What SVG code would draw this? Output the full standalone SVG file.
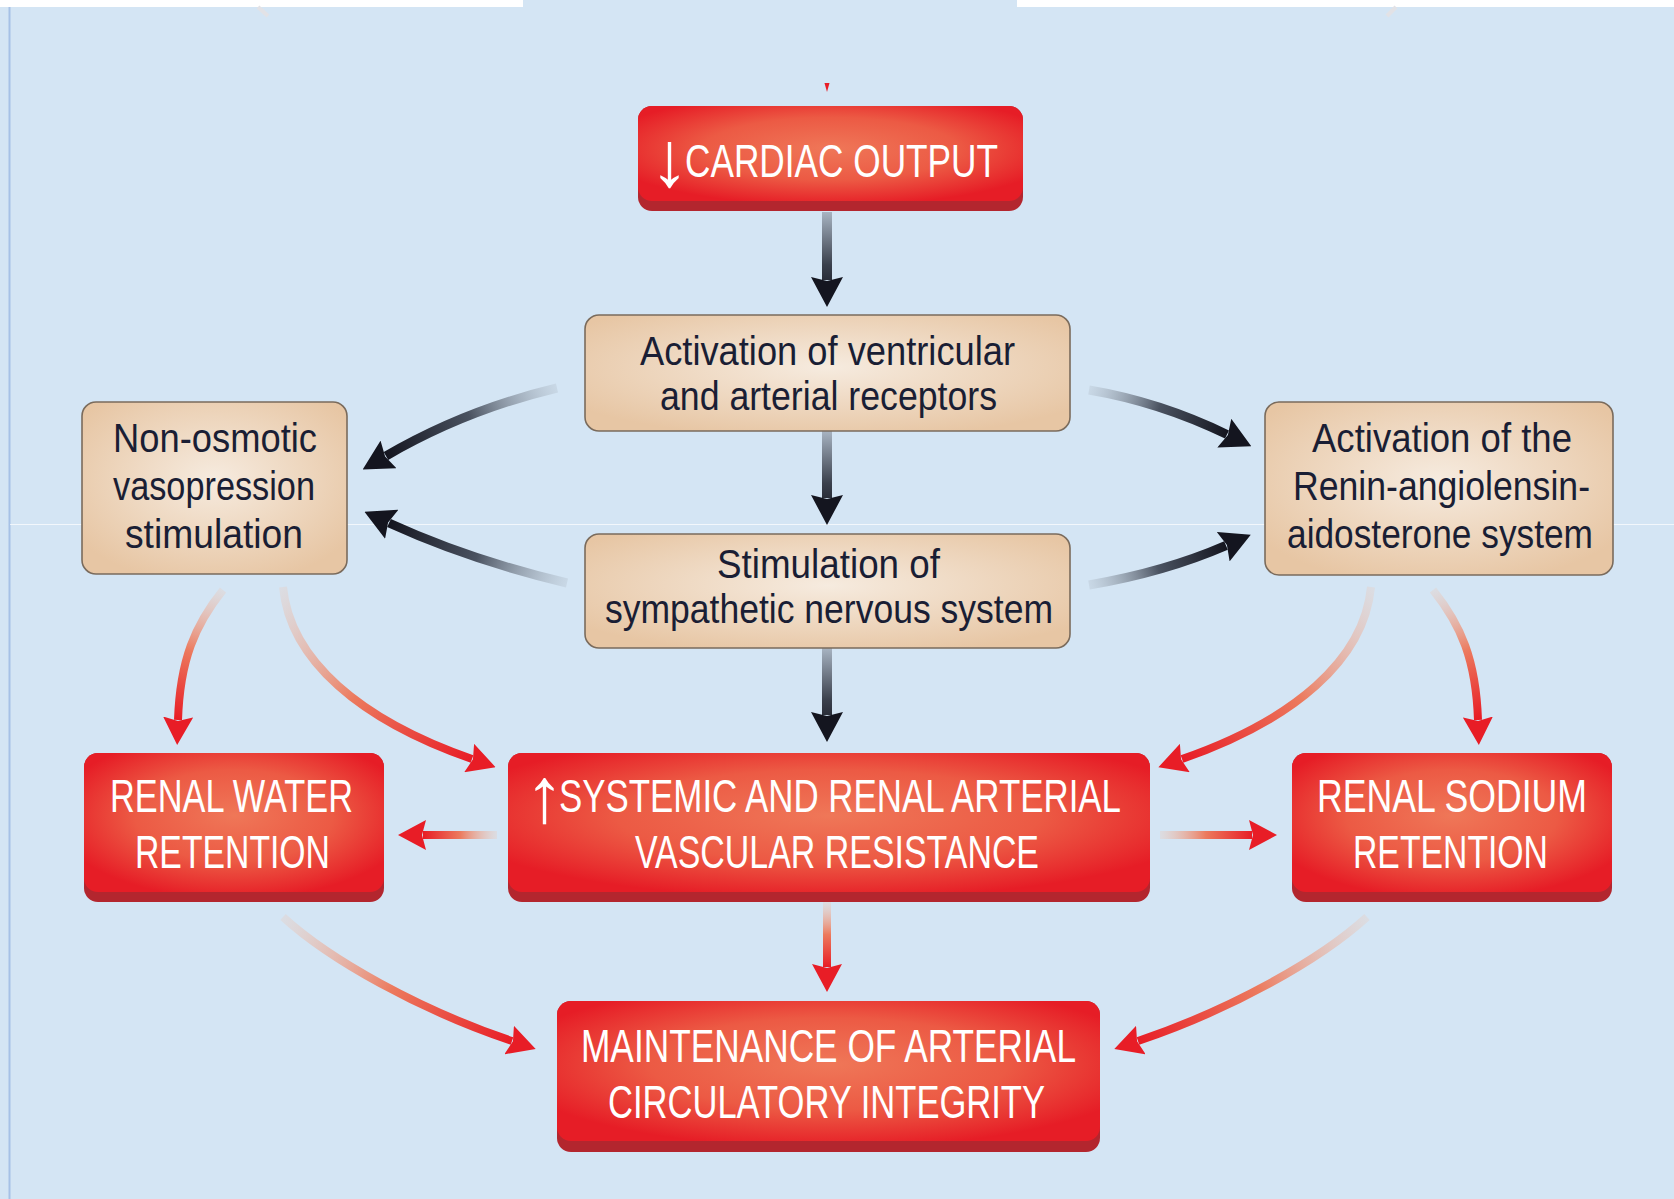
<svg xmlns="http://www.w3.org/2000/svg" width="1674" height="1199" viewBox="0 0 1674 1199">
<style>
.bg{fill:#d4e5f4}
.red .base{fill:#b3262e}
.red .face{fill:url(#redFill)}
.tan rect{fill:url(#tanFill);stroke:#7a6b5c;stroke-width:1.6}
.wt{font-family:"Liberation Sans",Arial,sans-serif;font-size:47px;fill:#ffffff}
.ar{font-size:78px}
.dt{font-family:"Liberation Sans",Arial,sans-serif;font-size:40px;fill:#1a1e34}
.dk{fill:none;stroke-width:9}
.rd{fill:none;stroke-width:8}
</style>
<defs>
<radialGradient id="redFill" cx="0.5" cy="0.45" r="0.6">
<stop offset="0" stop-color="#ef7758"/>
<stop offset="0.55" stop-color="#ec5a44"/>
<stop offset="1" stop-color="#e61d26"/>
</radialGradient>
<radialGradient id="tanFill" cx="0.5" cy="0.45" r="0.62">
<stop offset="0" stop-color="#f6ebdf"/>
<stop offset="1" stop-color="#e7c6a4"/>
</radialGradient>
<linearGradient id="dS">
<stop offset="0" stop-color="#b4c0cc" stop-opacity="0.35"/>
<stop offset="0.5" stop-color="#4a5260"/>
<stop offset="1" stop-color="#14151f"/>
</linearGradient>
<linearGradient id="dV">
<stop offset="0" stop-color="#a8b4c2"/>
<stop offset="0.6" stop-color="#3a404c"/>
<stop offset="1" stop-color="#14151f"/>
</linearGradient>
<linearGradient id="rS">
<stop offset="0" stop-color="#f0c4ae" stop-opacity="0.25"/>
<stop offset="0.5" stop-color="#ec7a5e"/>
<stop offset="1" stop-color="#e81d26"/>
</linearGradient>
<linearGradient id="ga" href="#dV" gradientUnits="userSpaceOnUse" x1="827" y1="212" x2="827" y2="300"/>
<linearGradient id="gb" href="#dV" gradientUnits="userSpaceOnUse" x1="827" y1="431" x2="827" y2="518"/>
<linearGradient id="gc" href="#dV" gradientUnits="userSpaceOnUse" x1="827" y1="648" x2="827" y2="735"/>
<linearGradient id="gd" href="#dS" gradientUnits="userSpaceOnUse" x1="557" y1="388" x2="386" y2="456"/>
<linearGradient id="ge" href="#dS" gradientUnits="userSpaceOnUse" x1="567" y1="583" x2="389" y2="523"/>
<linearGradient id="gf" href="#dS" gradientUnits="userSpaceOnUse" x1="1089" y1="390" x2="1227" y2="434"/>
<linearGradient id="gg" href="#dS" gradientUnits="userSpaceOnUse" x1="1089" y1="585" x2="1226" y2="545"/>
<linearGradient id="gh" href="#rS" gradientUnits="userSpaceOnUse" x1="223" y1="590" x2="178" y2="719"/>
<linearGradient id="gi" href="#rS" gradientUnits="userSpaceOnUse" x1="283" y1="587" x2="471" y2="759"/>
<linearGradient id="gj" href="#rS" gradientUnits="userSpaceOnUse" x1="1371" y1="587" x2="1183" y2="759"/>
<linearGradient id="gk" href="#rS" gradientUnits="userSpaceOnUse" x1="1433" y1="590" x2="1478" y2="719"/>
<linearGradient id="gl" href="#rS" gradientUnits="userSpaceOnUse" x1="497" y1="835" x2="423" y2="835"/>
<linearGradient id="gm" href="#rS" gradientUnits="userSpaceOnUse" x1="1160" y1="835" x2="1252" y2="835"/>
<linearGradient id="gn" href="#rS" gradientUnits="userSpaceOnUse" x1="827" y1="902" x2="827" y2="967"/>
<linearGradient id="go" href="#rS" gradientUnits="userSpaceOnUse" x1="283" y1="917" x2="512" y2="1041"/>
<linearGradient id="gp" href="#rS" gradientUnits="userSpaceOnUse" x1="1367" y1="917" x2="1138" y2="1041"/>
<marker id="hd" markerUnits="userSpaceOnUse" markerWidth="30" markerHeight="32" viewBox="0 0 30 32" refX="3" refY="16" orient="auto">
<path d="M0,0 L30,16 L0,32 L4,16 z" fill="#14151f"/>
</marker>
<marker id="hr" markerUnits="userSpaceOnUse" markerWidth="28" markerHeight="30" viewBox="0 0 28 30" refX="3" refY="15" orient="auto">
<path d="M0,0 L28,15 L0,30 L4,15 z" fill="#e81d26"/>
</marker>
</defs>

<g id="background">
<rect class="bg" x="0" y="0" width="1674" height="1199"/>
<rect x="0" y="0" width="523" height="7" fill="#ffffff"/>
<rect x="1017" y="0" width="657" height="7" fill="#ffffff"/>
<line x1="9.5" y1="7" x2="9.5" y2="1199" stroke="#a6c1e6" stroke-width="2"/>
<line x1="10" y1="524.5" x2="1674" y2="524.5" stroke="#ffffff" stroke-opacity="0.7" stroke-width="1"/>
<path d="M258,7 L268,16" stroke="#e2e2e6" stroke-width="4" fill="none"/>
<path d="M1396,7 L1387,16" stroke="#e2e2e6" stroke-width="4" fill="none"/>
<polygon points="824.5,83 829.5,83 827,92" fill="#e81d26"/>
</g>

<g id="connectors">
<path class="dk" stroke="url(#ga)" d="M827,212 L827,280" marker-end="url(#hd)" style="stroke-width:10"/>
<path class="dk" stroke="url(#gb)" d="M827,431 L827,498" marker-end="url(#hd)" style="stroke-width:10"/>
<path class="dk" stroke="url(#gc)" d="M827,648 L827,715" marker-end="url(#hd)" style="stroke-width:10"/>
<path class="dk" stroke="url(#gd)" d="M557,388 Q465,410 386,456" marker-end="url(#hd)"/>
<path class="dk" stroke="url(#ge)" d="M567,583 Q470,560 389,523" marker-end="url(#hd)"/>
<path class="dk" stroke="url(#gf)" d="M1089,390 Q1160,402 1227,434.5" marker-end="url(#hd)"/>
<path class="dk" stroke="url(#gg)" d="M1089,585 Q1165,572 1226,545.5" marker-end="url(#hd)"/>
<path class="rd" stroke="url(#gh)" d="M223,590 C195,625 180,660 178,720" marker-end="url(#hr)"/>
<path class="rd" stroke="url(#gi)" d="M283,587 C290,660 360,720 472,759" marker-end="url(#hr)"/>
<path class="rd" stroke="url(#gj)" d="M1371,587 C1364,660 1294,720 1182,759" marker-end="url(#hr)"/>
<path class="rd" stroke="url(#gk)" d="M1433,590 C1461,625 1476,660 1478,720" marker-end="url(#hr)"/>
<path class="rd" stroke="url(#gl)" d="M497,835 L423,835" marker-end="url(#hr)"/>
<path class="rd" stroke="url(#gm)" d="M1160,835 L1252,835" marker-end="url(#hr)"/>
<path class="rd" stroke="url(#gn)" d="M827,902 L827,967" marker-end="url(#hr)"/>
<path class="rd" stroke="url(#go)" d="M283,917 C330,960 420,1010 512,1041" marker-end="url(#hr)"/>
<path class="rd" stroke="url(#gp)" d="M1367,917 C1320,960 1230,1010 1138,1041" marker-end="url(#hr)"/>
</g>

<g id="cardiac-output" class="red">
<rect class="base" x="638" y="106" width="385" height="105" rx="14"/>
<rect class="face" x="638" y="106" width="385" height="95" rx="14"/>
<text class="wt" y="177"><tspan class="ar" x="650" y="186">↓</tspan><tspan x="685" y="177" textLength="313" lengthAdjust="spacingAndGlyphs">CARDIAC OUTPUT</tspan></text>
</g>

<g id="ventricular-receptors" class="tan">
<rect x="585" y="315" width="485" height="116" rx="14"/>
<text class="dt" x="640" y="365" textLength="375" lengthAdjust="spacingAndGlyphs">Activation of ventricular</text>
<text class="dt" x="660" y="410" textLength="337" lengthAdjust="spacingAndGlyphs">and arterial receptors</text>
</g>

<g id="sympathetic" class="tan">
<rect x="585" y="534" width="485" height="114" rx="14"/>
<text class="dt" x="717" y="578" textLength="223" lengthAdjust="spacingAndGlyphs">Stimulation of</text>
<text class="dt" x="605" y="623" textLength="448" lengthAdjust="spacingAndGlyphs">sympathetic nervous system</text>
</g>

<g id="vasopression" class="tan">
<rect x="82" y="402" width="265" height="172" rx="14"/>
<text class="dt" x="113" y="452" textLength="204" lengthAdjust="spacingAndGlyphs">Non-osmotic</text>
<text class="dt" x="113" y="500" textLength="202" lengthAdjust="spacingAndGlyphs">vasopression</text>
<text class="dt" x="125" y="548" textLength="178" lengthAdjust="spacingAndGlyphs">stimulation</text>
</g>

<g id="renin" class="tan">
<rect x="1265" y="402" width="348" height="173" rx="14"/>
<text class="dt" x="1312" y="452" textLength="260" lengthAdjust="spacingAndGlyphs">Activation of the</text>
<text class="dt" x="1293" y="500" textLength="297" lengthAdjust="spacingAndGlyphs">Renin-angiolensin-</text>
<text class="dt" x="1287" y="548" textLength="306" lengthAdjust="spacingAndGlyphs">aidosterone system</text>
</g>

<g id="renal-water" class="red">
<rect class="base" x="84" y="753" width="300" height="149" rx="14"/>
<rect class="face" x="84" y="753" width="300" height="139" rx="14"/>
<text class="wt" x="110" y="812" textLength="243" lengthAdjust="spacingAndGlyphs">RENAL WATER</text>
<text class="wt" x="135" y="868" textLength="195" lengthAdjust="spacingAndGlyphs">RETENTION</text>
</g>

<g id="resistance" class="red">
<rect class="base" x="508" y="753" width="642" height="149" rx="14"/>
<rect class="face" x="508" y="753" width="642" height="139" rx="14"/>
<text class="wt" y="812"><tspan class="ar" x="525" y="822">↑</tspan><tspan x="559" y="812" textLength="562" lengthAdjust="spacingAndGlyphs">SYSTEMIC AND RENAL ARTERIAL</tspan></text>
<text class="wt" x="635" y="868" textLength="404" lengthAdjust="spacingAndGlyphs">VASCULAR RESISTANCE</text>
</g>

<g id="renal-sodium" class="red">
<rect class="base" x="1292" y="753" width="320" height="149" rx="14"/>
<rect class="face" x="1292" y="753" width="320" height="139" rx="14"/>
<text class="wt" x="1317" y="812" textLength="270" lengthAdjust="spacingAndGlyphs">RENAL SODIUM</text>
<text class="wt" x="1353" y="868" textLength="195" lengthAdjust="spacingAndGlyphs">RETENTION</text>
</g>

<g id="maintenance" class="red">
<rect class="base" x="557" y="1001" width="543" height="151" rx="14"/>
<rect class="face" x="557" y="1001" width="543" height="140" rx="14"/>
<text class="wt" x="581" y="1062" textLength="495" lengthAdjust="spacingAndGlyphs">MAINTENANCE OF ARTERIAL</text>
<text class="wt" x="608" y="1118" textLength="437" lengthAdjust="spacingAndGlyphs">CIRCULATORY INTEGRITY</text>
</g>
</svg>
